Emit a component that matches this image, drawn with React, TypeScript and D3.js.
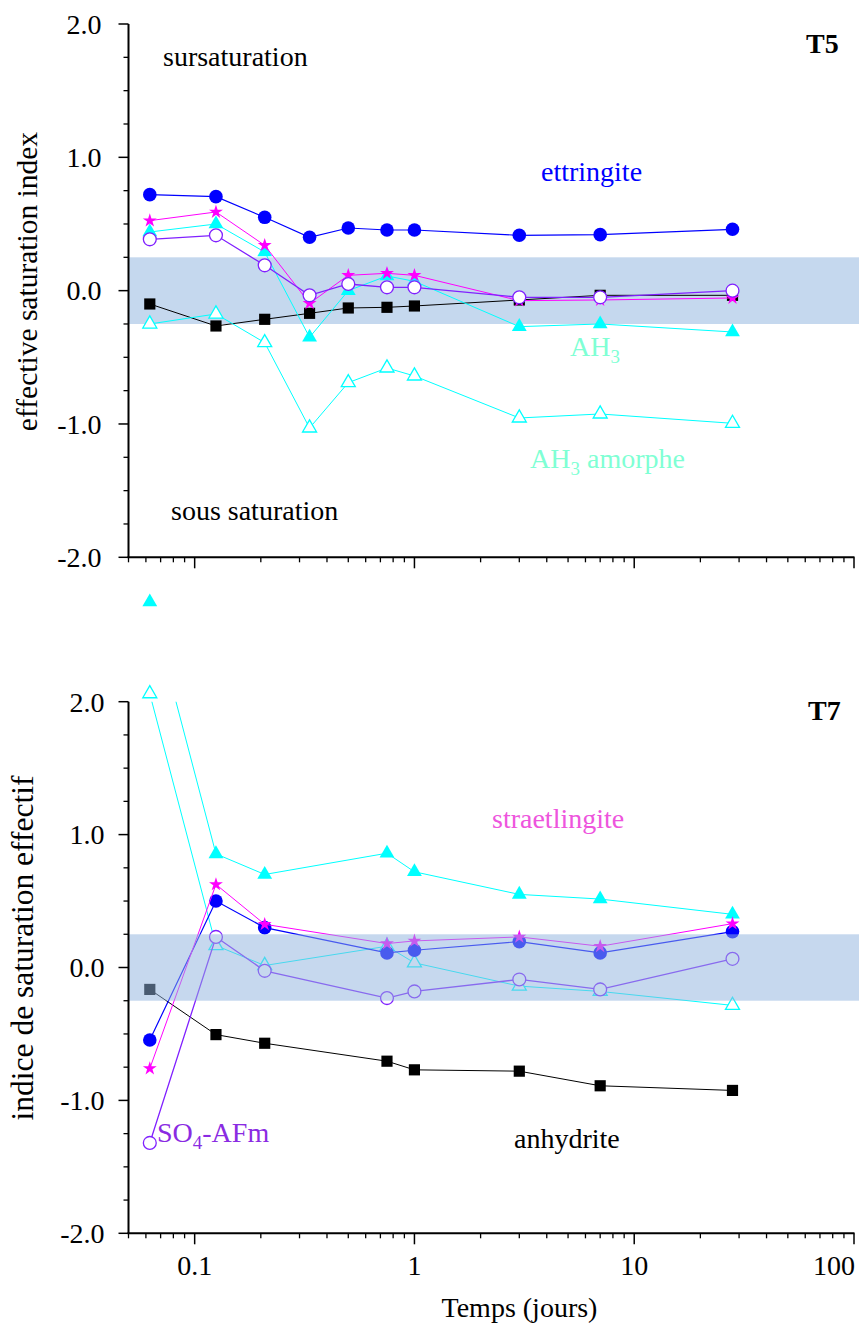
import React from "react";
import * as d3 from "d3";

// ---------- data ----------
const timesT5 = [0.0625, 0.125, 0.2083, 0.3333, 0.5, 0.75, 1, 3, 7, 28];
const timesT7 = [0.0625, 0.125, 0.2083, 0.75, 1, 3, 7, 28];

const ettringiteT5 = [0.72, 0.705, 0.55, 0.4, 0.47, 0.455, 0.455, 0.415, 0.42, 0.46];
const straetlingiteT5 = [0.525, 0.59, 0.34, -0.095, 0.115, 0.13, 0.115, -0.075, -0.07, -0.055];
const ah3T5 = [0.44, 0.5, 0.29, -0.35, 0.0, 0.11, 0.07, -0.27, -0.25, -0.31];
const ah3AmorpheT5 = [-0.25, -0.175, -0.39, -1.03, -0.69, -0.58, -0.64, -0.955, -0.925, -0.995];
const so4AfmT5 = [0.385, 0.415, 0.19, -0.035, 0.05, 0.025, 0.025, -0.05, -0.05, 0.0];
const anhydriteT5 = [-0.1, -0.265, -0.215, -0.17, -0.13, -0.125, -0.115, -0.07, -0.035, -0.035];

const ettringiteT7 = [-0.545, 0.5, 0.3, 0.11, 0.13, 0.195, 0.11, 0.27];
const straetlingiteT7 = [-0.76, 0.625, 0.325, 0.18, 0.2, 0.23, 0.16, 0.33];
const ah3T7 = [2.75, 0.855, 0.7, 0.86, 0.72, 0.55, 0.515, 0.4];
const ah3AmorpheT7 = [2.06, 0.165, 0.015, 0.16, 0.035, -0.14, -0.18, -0.285];
const so4AfmT7 = [-1.32, 0.23, -0.025, -0.23, -0.18, -0.09, -0.165, 0.065];
const anhydriteT7 = [-0.165, -0.505, -0.57, -0.705, -0.77, -0.78, -0.89, -0.925];

const yMajorTicks = [-2, -1, 0, 1, 2];
const yTickLabels = ["-2.0", "-1.0", "0.0", "1.0", "2.0"];
const xMajorTicks = [0.1, 1, 10, 100];
const xTickLabels = ["0.1", "1", "10", "100"];
const bandLimits = [-0.25, 0.25];

// ---------- styles ----------
const FONT = "'Liberation Serif', 'Times New Roman', Times, serif";
const W = 859;
const H = 1327;
const X0 = 128.5;
const X1 = 854;
const XR = 859;

type Series = {
  values: number[];
  color: string;
  symbol: "circle" | "square" | "triangle" | "star";
  filled: boolean;
  width: number;
  size: number;
};

const symbolMap: Record<string, d3.SymbolType> = {
  circle: d3.symbolCircle,
  square: d3.symbolSquare,
  triangle: d3.symbolTriangle,
  star: d3.symbolStar,
};

const x = d3.scaleLog().domain([0.05, 100]).range([X0, X1]);

function makeSeries(
  ett: number[],
  str: number[],
  ah3: number[],
  ah3am: number[],
  so4: number[],
  anh: number[]
): Series[] {
  return [
    { values: anh, color: "#000000", symbol: "square", filled: true, width: 1, size: 125 },
    { values: ah3am, color: "#00ffff", symbol: "triangle", filled: false, width: 1, size: 85 },
    { values: ah3, color: "#00ffff", symbol: "triangle", filled: true, width: 1, size: 95 },
    { values: ett, color: "#0000ff", symbol: "circle", filled: true, width: 1.2, size: 145 },
    { values: str, color: "#ff00ff", symbol: "star", filled: true, width: 1, size: 60 },
    { values: so4, color: "#8020ff", symbol: "circle", filled: false, width: 1.3, size: 130 },
  ];
}

function Panel(props: {
  id: string;
  yTop: number;
  yBottom: number;
  times: number[];
  series: Series[];
  bandOver: boolean;
  xLabels: boolean;
  labelRight: number;
}) {
  const { id, yTop, yBottom, times, series, bandOver, xLabels, labelRight } = props;
  const y = d3.scaleLinear().domain([-2, 2]).range([yBottom, yTop]);
  const minorY = d3.range(-2, 2.0001, 0.25).filter((v) => Math.abs(v - Math.round(v)) > 1e-6);
  const minorX: number[] = [];
  [0.01, 0.1, 1, 10].forEach((dec) => {
    for (let k = 2; k <= 9; k++) {
      const v = dec * k;
      if (v >= 0.05 && v < 100) minorX.push(v);
    }
  });
  const line = d3
    .line<number>()
    .x((_, i) => x(times[i]))
    .y((v) => y(v));

  const band = (
    <rect
      x={X0}
      y={y(bandLimits[1])}
      width={XR - X0}
      height={y(bandLimits[0]) - y(bandLimits[1])}
      fill={bandOver ? "rgb(143,178,221)" : "#c5d8ee"}
      fillOpacity={bandOver ? 0.51 : 1}
    />
  );

  return (
    <g>
      <defs>
        <clipPath id={id}>
          <rect x={X0} y={yTop} width={XR - X0} height={yBottom - yTop} />
        </clipPath>
      </defs>
      {!bandOver && band}
      {series.map((s, si) => (
        <g key={si}>
          <path
            d={line(s.values) || ""}
            fill="none"
            stroke={s.color}
            strokeWidth={s.width}
            clipPath={`url(#${id})`}
          />
          {s.values.map((v, i) => (
            <path
              key={i}
              transform={`translate(${x(times[i])},${y(v)})`}
              d={d3.symbol(symbolMap[s.symbol], s.size)() || ""}
              fill={s.filled ? s.color : "#ffffff"}
              stroke={s.filled ? "none" : s.color}
              strokeWidth={1.3}
            />
          ))}
        </g>
      ))}
      {bandOver && band}
      {/* y axis */}
      <line x1={X0} x2={X0} y1={yTop} y2={yBottom} stroke="#000" strokeWidth={2} />
      {yMajorTicks.map((t, i) => (
        <g key={t}>
          <line x1={X0 - 10} x2={X0} y1={y(t)} y2={y(t)} stroke="#000" strokeWidth={1.5} />
          <text
            x={labelRight}
            y={y(t)}
            dy="0.35em"
            textAnchor="end"
            fontFamily={FONT}
            fontSize={28}
          >
            {yTickLabels[i]}
          </text>
        </g>
      ))}
      {minorY.map((t) => (
        <line key={t} x1={X0 - 5} x2={X0} y1={y(t)} y2={y(t)} stroke="#000" strokeWidth={1.3} />
      ))}
      {/* x axis */}
      <line x1={X0 - 1} x2={X1 + 0.5} y1={yBottom} y2={yBottom} stroke="#000" strokeWidth={2} />
      {xMajorTicks.map((t, i) => (
        <g key={t}>
          <line x1={x(t)} x2={x(t)} y1={yBottom} y2={yBottom + 11} stroke="#000" strokeWidth={1.5} />
          {xLabels && (
            <text
              x={i === xMajorTicks.length - 1 ? x(t) + 1 : x(t)}
              y={yBottom + 42}
              textAnchor={i === xMajorTicks.length - 1 ? "end" : "middle"}
              fontFamily={FONT}
              fontSize={28}
            >
              {xTickLabels[i]}
            </text>
          )}
        </g>
      ))}
      {minorX.map((t) => (
        <line key={t} x1={x(t)} x2={x(t)} y1={yBottom} y2={yBottom + 5} stroke="#000" strokeWidth={1.3} />
      ))}
    </g>
  );
}

export default function App() {
  const seriesT5 = makeSeries(ettringiteT5, straetlingiteT5, ah3T5, ah3AmorpheT5, so4AfmT5, anhydriteT5);
  const seriesT7 = makeSeries(ettringiteT7, straetlingiteT7, ah3T7, ah3AmorpheT7, so4AfmT7, anhydriteT7);
  return (
    <svg
      width={W}
      height={H}
      viewBox={`0 0 ${W} ${H}`}
      style={{ position: "absolute", left: 0, top: 0, background: "#fff" }}
    >
      <rect x={0} y={0} width={W} height={H} fill="#fff" />
      <Panel
        id="clipT5"
        yTop={24}
        yBottom={557.3}
        times={timesT5}
        series={seriesT5}
        bandOver={false}
        xLabels={false}
        labelRight={101.5}
      />
      <Panel
        id="clipT7"
        yTop={701.7}
        yBottom={1233.3}
        times={timesT7}
        series={seriesT7}
        bandOver={true}
        xLabels={true}
        labelRight={104.5}
      />

      {/* top panel annotations */}
      <text x={163} y={66} fontFamily={FONT} fontSize={28}>sursaturation</text>
      <text x={806} y={53} fontFamily={FONT} fontSize={28} fontWeight="bold">T5</text>
      <text x={541} y={181} fontFamily={FONT} fontSize={28} fill="#0000ff">ettringite</text>
      <text x={570} y={356} fontFamily={FONT} fontSize={28} fill="#7fffd4">
        AH<tspan fontSize={19} dy={7}>3</tspan>
      </text>
      <text x={530} y={468} fontFamily={FONT} fontSize={28} fill="#7fffd4">
        AH<tspan fontSize={19} dy={7}>3</tspan>
        <tspan dy={-7}> amorphe</tspan>
      </text>
      <text x={171} y={520} fontFamily={FONT} fontSize={28}>sous saturation</text>
      <text
        transform="translate(36.5,281.5) rotate(-90)"
        textAnchor="middle"
        fontFamily={FONT}
        fontSize={29.5}
      >
        effective saturation index
      </text>

      {/* bottom panel annotations */}
      <text x={808} y={720} fontFamily={FONT} fontSize={28} fontWeight="bold">T7</text>
      <text x={492} y={828} fontFamily={FONT} fontSize={28} fill="#ee55dd">straetlingite</text>
      <text x={157} y={1142} fontFamily={FONT} fontSize={28} fill="#8a2be2">
        SO<tspan fontSize={19} dy={7}>4</tspan>
        <tspan dy={-7}>-AFm</tspan>
      </text>
      <text x={514} y={1148} fontFamily={FONT} fontSize={28}>anhydrite</text>
      <text
        transform="translate(33,948) rotate(-90)"
        textAnchor="middle"
        fontFamily={FONT}
        fontSize={31.5}
      >
        indice de saturation effectif
      </text>
      <text x={519.5} y={1317} textAnchor="middle" fontFamily={FONT} fontSize={28}>
        Temps (jours)
      </text>
    </svg>
  );
}
